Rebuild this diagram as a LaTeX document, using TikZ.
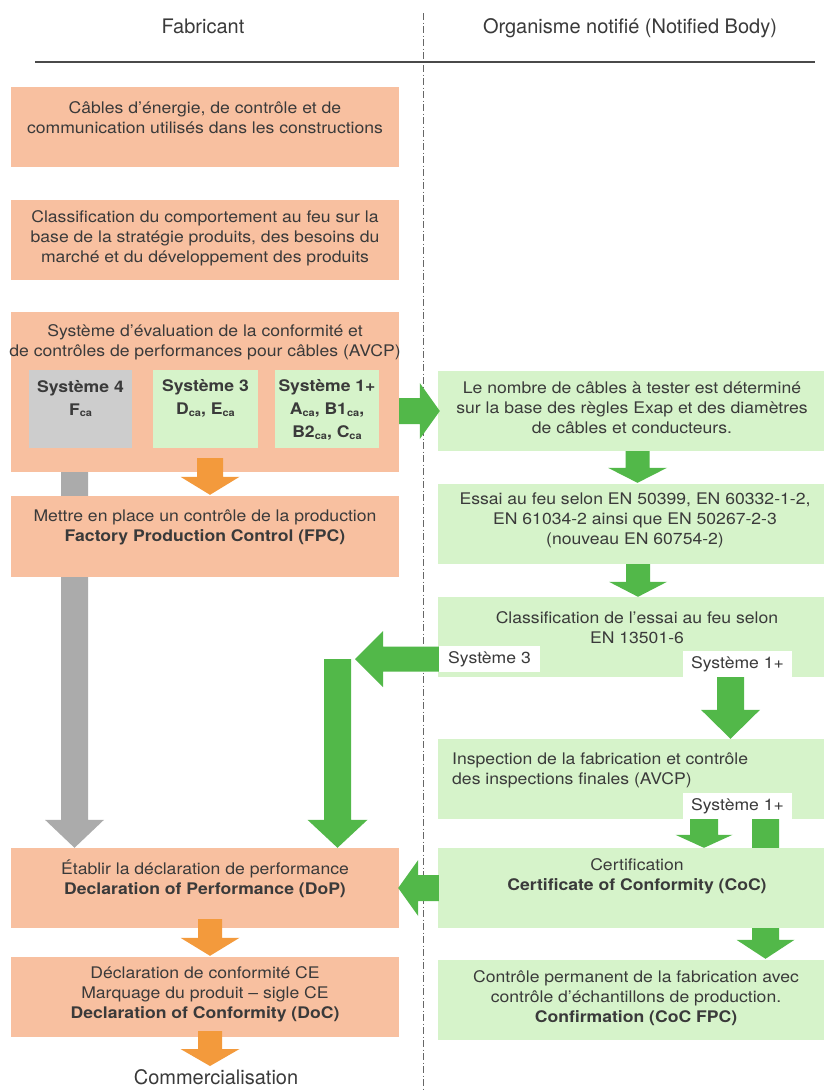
\documentclass[tikz,border=0pt]{standalone}
\usepackage{fontspec}
\setmainfont{TeX Gyre Heros}[FakeStretch=1.1]
\newfontfamily\hdrfont{TeX Gyre Heros}
\usetikzlibrary{calc}
\pgfdeclarelayer{bg}
\pgfsetlayers{bg,main}
\definecolor{peach}{HTML}{F8C0A0}
\definecolor{orarrow}{HTML}{F39A3C}
\definecolor{lgreen}{HTML}{D6F3CA}
\definecolor{garrow}{HTML}{52B849}
\definecolor{grayarrow}{HTML}{ABABAB}
\definecolor{graybox}{HTML}{CDCDCD}
\definecolor{txt}{HTML}{3A3A3A}
\definecolor{rulecol}{HTML}{4A4A4A}
\definecolor{dashcol}{HTML}{666666}
% vertical block arrow: color, from, to (y of tip), half shaft, half head, head length
\newcommand\varr[6]{\fill[#1] let \p1=(#2), \p2=(#3) in (\x1-#4,\y1) -- (\x1+#4,\y1) -- (\x1+#4,\y2+#6) -- (\x1+#5,\y2+#6) -- (\x1,\y2) -- (\x1-#5,\y2+#6) -- (\x1-#4,\y2+#6) -- cycle;}
% horizontal block arrow: color, from, to (x of tip), half shaft, half head, signed head length
\newcommand\harr[6]{\fill[#1] let \p1=(#2), \p2=(#3) in (\x1,\y1+#4) -- (\x2+#6,\y1+#4) -- (\x2+#6,\y1+#5) -- (\x2,\y1) -- (\x2+#6,\y1-#5) -- (\x2+#6,\y1-#4) -- (\x1,\y1-#4) -- cycle;}
\newcommand\subca{\raisebox{-1.5pt}{\fontsize{10}{10}\selectfont ca}}
\begin{document}
\begin{tikzpicture}[x=1pt,y=-1pt,
  every node/.style={text=txt, font=\fontsize{16}{20}\selectfont, inner sep=0pt},
  hdr/.style={font=\hdrfont\fontsize{20}{24}\selectfont, anchor=base},
  lbox/.style={rectangle, fill=peach, minimum width=388pt, minimum height=80pt},
  gbox/.style={rectangle, fill=lgreen, minimum width=386pt, minimum height=80pt},
  sbox/.style={rectangle, minimum height=78pt},
  sysb/.style={font=\fontsize{16}{23}\selectfont\bfseries, align=center},
  lab/.style={rectangle, fill=white, minimum height=26pt},
  txtc/.style={align=center}]
\useasboundingbox (0,0) rectangle (824,1090);

% headers
\node[hdr] (hfab) at (203,33) {Fabricant};
\node[hdr] (hnb) at (630,33) {Organisme notifié (Notified Body)};
\coordinate (rl) at (35,62);
\coordinate (rr) at (815,62);
\coordinate (dt) at (423,13);
\coordinate (db) at (423,1090);
\draw[rulecol, line width=2pt] (rl) -- (rr);

% left column boxes
\node[lbox] (b1) at (205,127) {};
\node[txtc] (t1) at (205,117.5) {Câbles d’énergie, de contrôle et de\\communication utilisés dans les constructions};
\node[lbox] (b2) at (205,240) {};
\node[txtc] (t2) at (205,238) {Classification du comportement au feu sur la\\base de la stratégie produits, des besoins du\\marché et du développement des produits};
\node[lbox, minimum height=160pt] (b3) at (205,392) {};
\node[txtc] (t3) at (205,342) {Système d’évaluation de la conformité et\\de contrôles de performances pour câbles (AVCP)};
\node[sbox, fill=graybox, minimum width=103pt] (s4) at (80.5,409) {};
\node[sbox, fill=lgreen, minimum width=105pt] (s3) at (205.5,409) {};
\node[sbox, fill=lgreen, minimum width=104pt] (s1) at (327,409) {};
\node[sysb] (ts4) at (80.5,398.5) {Système 4\\F\subca};
\node[sysb] (ts3) at (205.5,398.5) {Système 3\\D\subca, E\subca};
\node[sysb] (ts1) at (327,410) {Système 1+\\A\subca, B1\subca,\\B2\subca, C\subca};
\node[lbox, minimum height=81pt] (b4) at (205,536.5) {};
\node[txtc] (t4) at (205,527) {Mettre en place un contrôle de la production\\\textbf{Factory Production Control (FPC)}};
\node[lbox] (dop) at (205,888) {};
\node[txtc] (tdop) at (205,879) {Établir la déclaration de performance\\\textbf{Declaration of Performance (DoP)}};
\node[lbox] (doc) at (205,997) {};
\node[txtc] (tdoc) at (205,994) {Déclaration de conformité CE\\Marquage du produit – sigle CE\\\textbf{Declaration of Conformity (DoC)}};
\node[hdr] (comm) at (216,1084) {Commercialisation};
\coordinate (commtip) at (210,1066);

% right column boxes
\node[gbox] (g1) at (631,411) {};
\node[txtc] (tg1) at (632,408) {Le nombre de câbles à tester est déterminé\\sur la base des règles Exap et des diamètres\\de câbles et conducteurs.};
\node[gbox] (g2) at (631,524) {};
\node[txtc] (tg2) at (635,520) {Essai au feu selon EN 50399, EN 60332-1-2,\\EN 61034-2 ainsi que EN 50267-2-3\\(nouveau EN 60754-2)};
\node[gbox] (g3) at (631,637) {};
\node[txtc] (tg3) at (637,628) {Classification de l’essai au feu selon\\EN 13501-6};
\node[gbox] (g4) at (631,779) {};
\node[align=left, anchor=west] (tg4) at (452,770) {Inspection de la fabrication et contrôle\\des inspections finales (AVCP)};
\node[gbox] (g5) at (631,888) {};
\node[txtc] (tg5) at (637,876) {Certification\\\textbf{Certificate of Conformity (CoC)}};
\node[gbox] (g6) at (631,1000) {};
\node[txtc] (tg6) at (636,998) {Contrôle permanent de la fabrication avec\\contrôle d’échantillons de production.\\\textbf{Confirmation (CoC FPC)}};

% white labels
\node[lab, minimum width=101pt] (l3) at (489.5,659) {Système 3};
\node[lab, minimum width=109pt] (l1a) at (737.5,664) {Système 1+};
\node[lab, minimum width=109pt] (l1b) at (737.5,806) {Système 1+};
\coordinate (j3) at (355,659);

% background layer: dash-dot separator and arrows passing behind boxes
\begin{pgfonlayer}{bg}
\fill[white] (0,0) rectangle (824,1090);
\draw[dashcol, line width=0.8pt, dash pattern=on 7pt off 2.5pt on 1pt off 2.5pt] (dt) -- (db);
\varr{grayarrow}{$(b3.south)+(-130.5,0)$}{dop.north}{13.5pt}{29.5pt}{28pt}
\varr{garrow}{$(l1b.south)+(28,0)$}{$(g6.north)+(0,-1)$}{13.5pt}{29pt}{19pt}
\end{pgfonlayer}

% arrows
\varr{orarrow}{$(b3.south)+(5,-14)$}{$(b4.north)+(0,-1)$}{13pt}{29.5pt}{18pt}
\varr{orarrow}{$(dop.south)+(5,-9)$}{$(doc.north)+(0,-1)$}{12pt}{29.5pt}{18pt}
\varr{orarrow}{$(doc.south)+(5,-6)$}{commtip}{12pt}{29.5pt}{17pt}
\harr{garrow}{b3.east |- g1.west}{$(g1.west)+(2,0)$}{13pt}{28pt}{-20pt}
\varr{garrow}{$(g1.south)+(6.5,0)$}{$(g2.north)+(0,-1)$}{12pt}{29.5pt}{15pt}
\varr{garrow}{$(g2.south)+(7,0)$}{g3.north}{12pt}{29pt}{15pt}
\harr{garrow}{l3.west}{j3}{12.5pt}{28pt}{28pt}
\varr{garrow}{$(j3)+(-17.5,0)$}{dop.north}{13.5pt}{30pt}{28pt}
\varr{garrow}{$(l1a.south)+(-7,0)$}{g4.north}{13.5pt}{29.5pt}{29pt}
\varr{garrow}{$(l1b.south)+(-33.5,0)$}{g5.north}{14pt}{28.5pt}{13pt}
\harr{garrow}{$(g5.west)+(1,0)$}{$(dop.east)+(-1,0)$}{13pt}{28pt}{20pt}
\end{tikzpicture}
\end{document}
